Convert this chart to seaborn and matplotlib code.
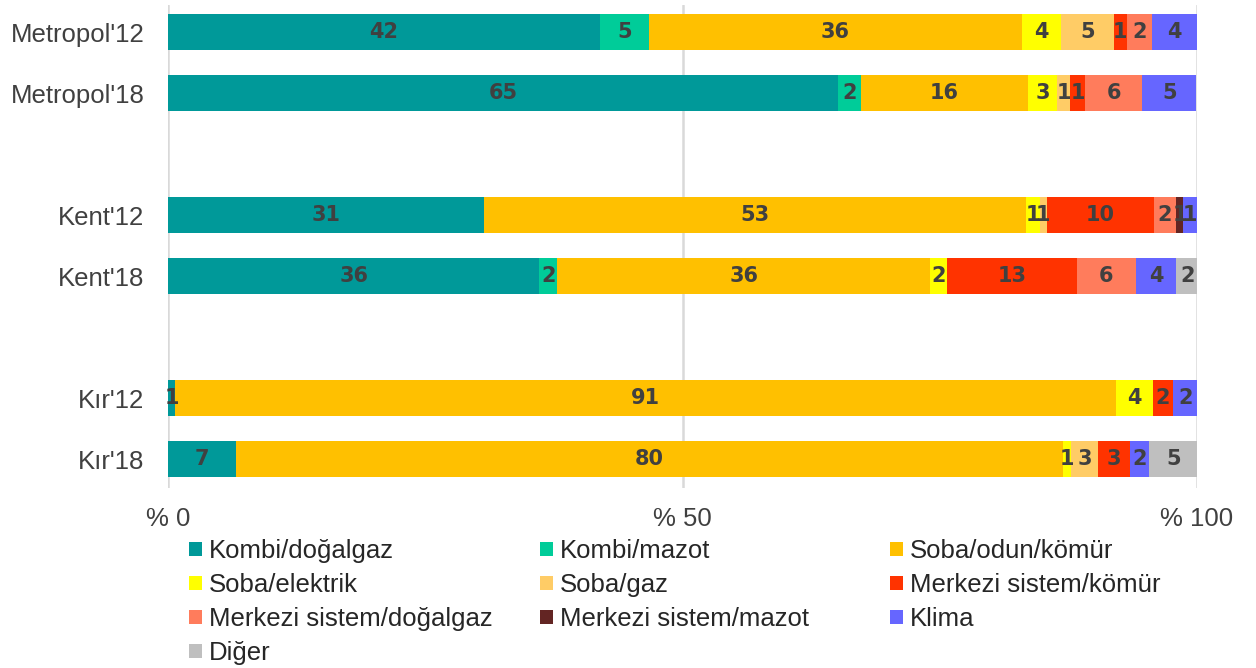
import matplotlib
matplotlib.use("Agg")
import matplotlib.pyplot as plt
import seaborn as sns
import numpy as np
import pandas as pd
from matplotlib.patches import Patch

categories = ["Metropol'12", "Metropol'18", "Kent'12", "Kent'18", "Kır'12", "Kır'18"]
order = ["Metropol'12", "Metropol'18", " ", "Kent'12", "Kent'18", "  ", "Kır'12", "Kır'18"]

series_names = ["Kombi/doğalgaz", "Kombi/mazot", "Soba/odun/kömür", "Soba/elektrik", "Soba/gaz",
                "Merkezi sistem/kömür", "Merkezi sistem/doğalgaz", "Merkezi sistem/mazot", "Klima", "Diğer"]

kombi_dogalgaz = [42.0, 65.1, 30.7, 36.1, 0.7, 6.6]
kombi_mazot = [4.7, 2.2, 0.0, 1.7, 0.0, 0.0]
soba_odun = [36.3, 16.3, 52.7, 36.3, 91.4, 80.4]
soba_elektrik = [3.8, 2.8, 1.3, 1.6, 3.6, 0.8]
soba_gaz = [5.1, 1.3, 0.7, 0.0, 0.0, 2.6]
merkezi_komur = [1.3, 1.4, 10.4, 12.6, 2.0, 3.1]
merkezi_dogalgaz = [2.4, 5.6, 2.2, 5.8, 0.0, 0.0]
merkezi_mazot = [0.0, 0.0, 0.6, 0.0, 0.0, 0.0]
klima = [4.4, 5.2, 1.4, 3.9, 2.3, 1.8]
diger = [0.0, 0.0, 0.0, 2.1, 0.0, 4.8]

colors = ["#009999", "#00CC99", "#FFC000", "#FFFF00", "#FFCC66",
          "#FF3300", "#FF7C5C", "#632523", "#6666FF", "#BFBFBF"]

xtick_vals = [0, 50, 100]
xtick_labels = ["% 0", "% 50", "% 100"]

values = np.array([kombi_dogalgaz, kombi_mazot, soba_odun, soba_elektrik, soba_gaz,
                   merkezi_komur, merkezi_dogalgaz, merkezi_mazot, klima, diger])
cum = np.cumsum(values, axis=0)

sns.set_style("white")
plt.rcParams['font.family'] = ['Liberation Sans', 'DejaVu Sans']

fig = plt.figure(figsize=(12.56, 6.68), dpi=100)
ax = fig.add_axes([168/1256, 1 - 488/668, (1197-168)/1256, (488-5)/668])

for i in range(len(series_names) - 1, -1, -1):
    df = pd.DataFrame({"cat": categories, "val": cum[i]})
    sns.barplot(data=df, x="val", y="cat", order=order, color=colors[i], orient="h",
                width=0.59, linewidth=0, saturation=1, ax=ax, zorder=3)

pos = {c: order.index(c) for c in categories}
for i in range(len(series_names)):
    for j, c in enumerate(categories):
        v = values[i, j]
        if v > 0:
            ax.text(cum[i, j] - v / 2, pos[c], f"{v:.0f}", ha="center", va="center",
                    fontsize=15, fontweight="bold", color="#404040",
                    family=["DejaVu Sans"], zorder=5)

ax.set_xlim(0, 100)
ax.set_ylim(7.475, -0.45)
ax.set_xticks(xtick_vals)
ax.set_xticklabels(xtick_labels, fontsize=18.5, color="#404040")
ax.tick_params(axis="x", length=0, pad=14)
ax.tick_params(axis="y", length=0, pad=17, labelsize=18.5, labelcolor="#404040")
ax.set_xlabel("")
ax.set_ylabel("")
for s in ax.spines.values():
    s.set_visible(False)
ax.xaxis.grid(True, color="#D9D9D9", linewidth=1.8, zorder=0)
ax.set_axisbelow(True)

handles = [Patch(facecolor=colors[i], edgecolor="none", label=series_names[i]) for i in range(len(series_names))]
cols = [[0, 3, 6, 9], [1, 4, 7], [2, 5, 8]]
col_x = [189, 540, 890]
for k, idxs in enumerate(cols):
    leg = fig.legend(handles=[handles[i] for i in idxs], loc="upper left",
                     bbox_to_anchor=(col_x[k] / 1256, 1 - 539 / 668), frameon=False,
                     fontsize=18.5, handlelength=0.5, handleheight=0.5, handletextpad=0.28,
                     labelspacing=0.39, borderaxespad=0, borderpad=0)
    for t in leg.get_texts():
        t.set_color("#262626")

fig.savefig("out.png", dpi=100)
